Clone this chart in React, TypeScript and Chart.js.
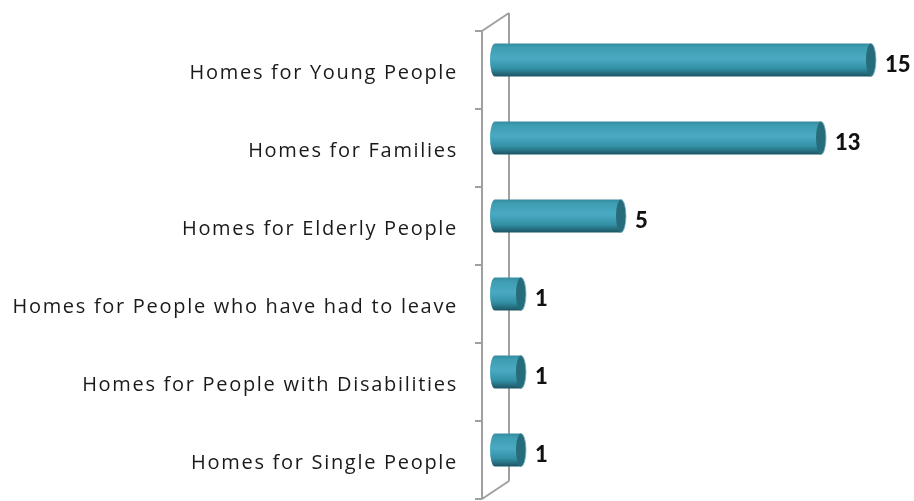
import React, { useEffect, useRef } from "react";
import { Chart, registerables } from "chart.js";

Chart.register(...registerables);

const categories = [
  "Homes for Young People",
  "Homes for Families",
  "Homes for Elderly People",
  "Homes for People who have had to leave",
  "Homes for People with Disabilities",
  "Homes for Single People",
];
const values = [15, 13, 5, 1, 1, 1];

const DEPTH_X = 27;
const DEPTH_Y = -18;

const cylinderPlugin = {
  id: "cylinders",
  beforeDraw(chart: any) {
    chart.ctx.letterSpacing = "1.7px";
  },
  beforeDatasetsDraw(chart: any) {
    const ctx = chart.ctx;
    ctx.letterSpacing = "0px";
    const area = chart.chartArea;
    const yScale = chart.scales.y;
    const n = categories.length;
    ctx.save();
    ctx.strokeStyle = "#a0a0a0";
    ctx.lineWidth = 2;
    const top = area.top;
    const bottom = area.bottom;
    const fx = area.left;
    ctx.beginPath();
    ctx.moveTo(fx, top);
    ctx.lineTo(fx, bottom);
    ctx.moveTo(fx + DEPTH_X, top + DEPTH_Y);
    ctx.lineTo(fx + DEPTH_X, bottom + DEPTH_Y);
    ctx.moveTo(fx, top);
    ctx.lineTo(fx + DEPTH_X, top + DEPTH_Y);
    ctx.moveTo(fx, bottom);
    ctx.lineTo(fx + DEPTH_X, bottom + DEPTH_Y);
    for (let i = 0; i <= n; i++) {
      const y =
        i === 0
          ? top
          : i === n
          ? bottom
          : (yScale.getPixelForValue(i - 1) + yScale.getPixelForValue(i)) / 2;
      ctx.moveTo(fx - 7, y);
      ctx.lineTo(fx, y);
    }
    ctx.stroke();
    ctx.restore();
  },
  afterDatasetsDraw(chart: any) {
    const ctx = chart.ctx;
    const meta = chart.getDatasetMeta(0);
    ctx.save();
    meta.data.forEach((el: any, i: number) => {
      const h = el.height;
      const cy = el.y - 10;
      const yT = cy - h / 2;
      const yB = cy + h / 2;
      const rx = 5;
      const ry = h / 2;
      const xL = el.base - 6;
      const xR = el.x - rx;
      const g = ctx.createLinearGradient(0, yT, 0, yB);
      g.addColorStop(0, "#358b9e");
      g.addColorStop(0.12, "#3e9db2");
      g.addColorStop(0.45, "#49aac2");
      g.addColorStop(0.75, "#3391a6");
      g.addColorStop(1, "#1c5462");
      ctx.fillStyle = g;
      ctx.beginPath();
      ctx.moveTo(xL, yT);
      ctx.lineTo(xR, yT);
      ctx.lineTo(xR, yB);
      ctx.lineTo(xL, yB);
      ctx.ellipse(xL, cy, rx, ry, 0, Math.PI / 2, (3 * Math.PI) / 2);
      ctx.closePath();
      ctx.fill();
      ctx.beginPath();
      ctx.ellipse(xR, cy, rx, ry, 0, 0, Math.PI * 2);
      ctx.fillStyle = "#276c7b";
      ctx.fill();
      ctx.strokeStyle = "rgba(130,185,200,0.8)";
      ctx.lineWidth = 1;
      ctx.beginPath();
      ctx.ellipse(xR, cy, rx, ry, 0, -Math.PI / 2, Math.PI / 2);
      ctx.stroke();
      ctx.fillStyle = "#111111";
      ctx.font = "900 22px Lato, 'DejaVu Sans', sans-serif";
      ctx.textAlign = "left";
      ctx.textBaseline = "middle";
      ctx.fillText(String(values[i]), el.x + 9, cy + 5);
    });
    ctx.restore();
  },
};

export default function App() {
  const ref = useRef<HTMLCanvasElement | null>(null);
  useEffect(() => {
    document.body.style.margin = "0";
    const canvas = ref.current!;
    const chart = new Chart(canvas, {
      type: "bar",
      data: {
        labels: categories,
        datasets: [
          {
            data: values,
            backgroundColor: "rgba(0,0,0,0)",
            borderWidth: 0,
            barPercentage: 0.85,
            categoryPercentage: 0.5,
          },
        ],
      },
      options: {
        indexAxis: "y",
        animation: false,
        responsive: false,
        maintainAspectRatio: false,
        layout: { padding: { top: 31, bottom: 2, left: 0, right: 7 } },
        plugins: { legend: { display: false }, tooltip: { enabled: false } },
        scales: {
          x: {
            display: false,
            min: -0.76,
            max: 16.24,
          },
          y: {
            grid: { display: false, drawTicks: true, tickLength: 24 },
            border: { display: false },
            afterFit: (scale: any) => {
              scale.width = 482;
              scale.paddingTop = 0;
              scale.paddingBottom = 0;
            },
            ticks: {
              padding: 0,
              labelOffset: 3,
              color: "#1a1a1a",
              font: { family: "'Open Sans', Lato, sans-serif", size: 20 },
            },
          },
        },
      },
      plugins: [cylinderPlugin],
    });
    return () => chart.destroy();
  }, []);
  return <canvas ref={ref} width={914} height={501} style={{ display: "block" }} />;
}
